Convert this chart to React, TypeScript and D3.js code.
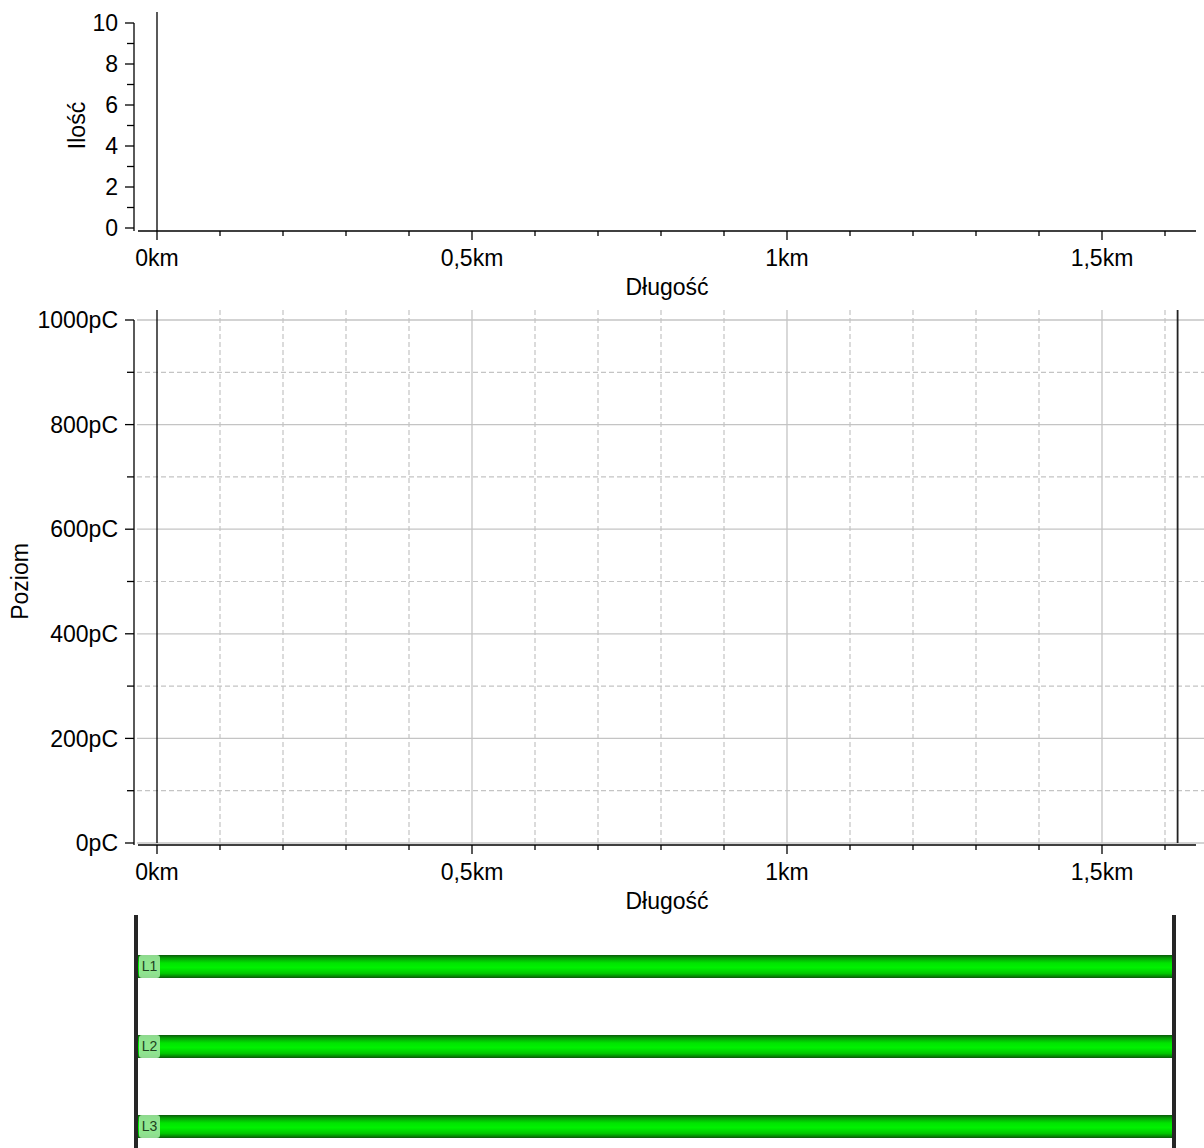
import React from "react";
import * as d3 from "d3";

const cableLengthKm = 1.62;
const xMajorTicks = [0, 0.5, 1, 1.5];
const xMinorTicks = [0.1, 0.2, 0.3, 0.4, 0.6, 0.7, 0.8, 0.9, 1.1, 1.2, 1.3, 1.4, 1.6];
const countMajorTicks = [0, 2, 4, 6, 8, 10];
const countMinorTicks = [1, 3, 5, 7, 9];
const levelMajorTicks = [0, 200, 400, 600, 800, 1000];
const levelMinorTicks = [100, 300, 500, 700, 900];
const phaseLines = ["L1", "L2", "L3"];
const countValues: number[] = [];
const levelValues: number[] = [];

const FONT = "'Liberation Sans', Arial, sans-serif";
const FS = 23;
const fmtKm = (v: number) => String(v).replace(".", ",") + "km";

export default function App() {
  const x = d3.scaleLinear().domain([0, cableLengthKm]).range([157, 157 + cableLengthKm * 630]);
  const yTop = d3.scaleLinear().domain([0, 10]).range([228, 23]);
  const yMid = d3.scaleLinear().domain([0, 1000]).range([843, 320]);
  const yBands = d3.scalePoint<string>().domain(phaseLines).range([966, 1126]);

  const axisLeft = 134;
  const axisRightEnd = 1196;
  const axisStart = 138;

  const xAxis = (y0: number, key: string) => (
    <g key={key}>
      <line x1={axisStart} x2={axisRightEnd} y1={y0} y2={y0} stroke="#000" strokeWidth={1.3} />
      {xMajorTicks.map((t) => (
        <g key={"M" + t}>
          <line x1={x(t)} x2={x(t)} y1={y0} y2={y0 + 9} stroke="#000" strokeWidth={1.3} />
          <text x={x(t)} y={y0 + 35} textAnchor="middle" fontSize={FS} fontFamily={FONT} fill="#000">
            {fmtKm(t)}
          </text>
        </g>
      ))}
      {xMinorTicks.map((t) => (
        <line key={"m" + t} x1={x(t)} x2={x(t)} y1={y0} y2={y0 + 5} stroke="#000" strokeWidth={1.3} />
      ))}
      <text x={(axisStart + axisRightEnd) / 2} y={y0 + 64} textAnchor="middle" fontSize={FS} fontFamily={FONT} fill="#000">
        Długość
      </text>
    </g>
  );

  return (
    <div style={{ position: "absolute", left: 0, top: 0 }}>
      <svg width={1204} height={1148} style={{ display: "block", background: "#fff" }}>
        <defs>
          <linearGradient id="tube" x1="0" y1="0" x2="0" y2="1">
            <stop offset="0" stopColor="#0a5a0a" />
            <stop offset="0.12" stopColor="#079a07" />
            <stop offset="0.35" stopColor="#00e400" />
            <stop offset="0.55" stopColor="#00f200" />
            <stop offset="0.8" stopColor="#00c800" />
            <stop offset="0.92" stopColor="#058a05" />
            <stop offset="1" stopColor="#0a5a0a" />
          </linearGradient>
        </defs>

        {/* ===== Top chart: Ilość ===== */}
        <g>
          <line x1={axisLeft} x2={axisLeft} y1={yTop(10)} y2={231} stroke="#000" strokeWidth={1.3} />
          {countMajorTicks.map((t) => (
            <g key={"c" + t}>
              <line x1={axisLeft - 9} x2={axisLeft} y1={yTop(t)} y2={yTop(t)} stroke="#000" strokeWidth={1.3} />
              <text x={118} y={yTop(t)} dy="0.36em" textAnchor="end" fontSize={FS} fontFamily={FONT} fill="#000">
                {t}
              </text>
            </g>
          ))}
          {countMinorTicks.map((t) => (
            <line key={"cm" + t} x1={axisLeft - 7} x2={axisLeft} y1={yTop(t)} y2={yTop(t)} stroke="#000" strokeWidth={1.3} />
          ))}
          <text
            transform={`translate(${85},${(yTop(0) + yTop(10)) / 2}) rotate(-90)`}
            textAnchor="middle"
            fontSize={FS}
            fontFamily={FONT}
            fill="#000"
          >
            Ilość
          </text>
          {countValues.map((v, i) => (
            <circle key={i} cx={x(0)} cy={yTop(v)} r={2} />
          ))}
          <line x1={x(0)} x2={x(0)} y1={12} y2={231} stroke="#000" strokeWidth={1.3} />
          {xAxis(231, "topx")}
        </g>

        {/* ===== Middle chart: Poziom ===== */}
        <g>
          {levelMinorTicks.map((t) => (
            <line key={"gm" + t} x1={137} x2={1204} y1={yMid(t)} y2={yMid(t)} stroke="#c4c4c4" strokeWidth={1.2} strokeDasharray="5,3" />
          ))}
          {levelMajorTicks.map((t) => (
            <line key={"gM" + t} x1={137} x2={1204} y1={yMid(t)} y2={yMid(t)} stroke="#c4c4c4" strokeWidth={1.3} />
          ))}
          {xMinorTicks.map((t) => (
            <line key={"gvx" + t} x1={x(t)} x2={x(t)} y1={310} y2={yMid(0)} stroke="#c4c4c4" strokeWidth={1.2} strokeDasharray="5,3" />
          ))}
          {xMajorTicks.filter((t) => t > 0).map((t) => (
            <line key={"gVx" + t} x1={x(t)} x2={x(t)} y1={310} y2={yMid(0)} stroke="#c4c4c4" strokeWidth={1.3} />
          ))}

          <line x1={axisLeft} x2={axisLeft} y1={yMid(1000)} y2={845} stroke="#000" strokeWidth={1.3} />
          {levelMajorTicks.map((t) => (
            <g key={"l" + t}>
              <line x1={axisLeft - 9} x2={axisLeft} y1={yMid(t)} y2={yMid(t)} stroke="#000" strokeWidth={1.3} />
              <text x={118} y={yMid(t)} dy="0.36em" textAnchor="end" fontSize={FS} fontFamily={FONT} fill="#000">
                {t + "pC"}
              </text>
            </g>
          ))}
          {levelMinorTicks.map((t) => (
            <line key={"lm" + t} x1={axisLeft - 7} x2={axisLeft} y1={yMid(t)} y2={yMid(t)} stroke="#000" strokeWidth={1.3} />
          ))}
          <text
            transform={`translate(${28},${(yMid(0) + yMid(1000)) / 2}) rotate(-90)`}
            textAnchor="middle"
            fontSize={FS}
            fontFamily={FONT}
            fill="#000"
          >
            Poziom
          </text>
          {levelValues.map((v, i) => (
            <circle key={i} cx={x(0)} cy={yMid(v)} r={2} />
          ))}
          <line x1={x(0)} x2={x(0)} y1={310} y2={yMid(0)} stroke="#000" strokeWidth={1.3} />
          <line x1={x(cableLengthKm)} x2={x(cableLengthKm)} y1={310} y2={yMid(0)} stroke="#222" strokeWidth={1.8} />
          {xAxis(845, "midx")}
        </g>

        {/* ===== Bottom: cable phases ===== */}
        <g>
          <rect x={134} y={915} width={4} height={233} fill="#262626" />
          <rect x={1172} y={915} width={4} height={233} fill="#262626" />
          {phaseLines.map((p) => {
            const cy = yBands(p) as number;
            return (
              <g key={p}>
                <rect x={138} y={cy - 11} width={1034} height={23} fill="url(#tube)" />
                <rect x={139} y={cy - 11} width={21} height={23} rx={3} fill="#9fe59f" opacity={0.9} />
                <text x={149.5} y={cy + 5} textAnchor="middle" fontSize={14} fontFamily={FONT} fill="#204020">
                  {p}
                </text>
              </g>
            );
          })}
        </g>
      </svg>
    </div>
  );
}
